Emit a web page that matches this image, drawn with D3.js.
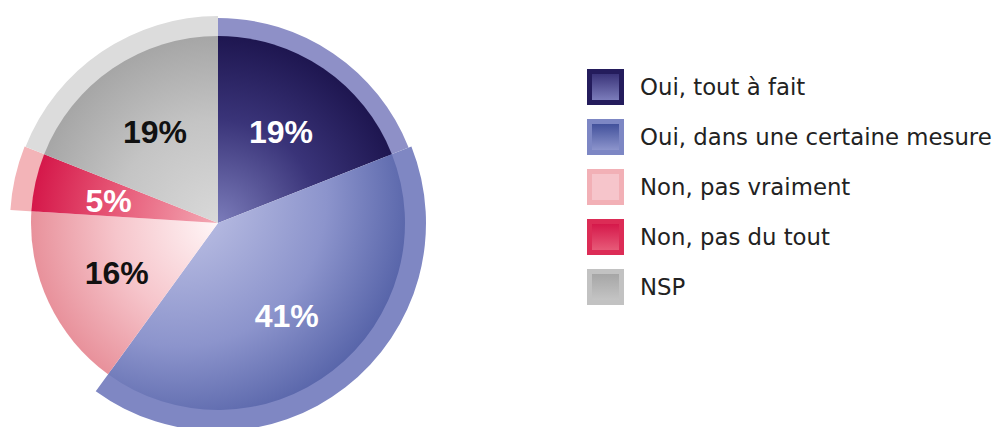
<!DOCTYPE html>
<html>
<head>
<meta charset="utf-8">
<script src="https://cdn.jsdelivr.net/npm/d3@7"></script>
<style>
  body { margin: 0; background: #fff; }
  svg { display: block; }
</style>
</head>
<body>
<svg id="chart" width="995" height="427"></svg>
<script>
// --- Data -----------------------------------------
const categories = [
  "Oui, tout à fait",
  "Oui, dans une certaine mesure",
  "Non, pas vraiment",
  "Non, pas du tout",
  "NSP"
];
const values = [19, 41, 16, 5, 19];
const valueLabels = ["19%", "41%", "16%", "5%", "19%"];

// --- Styles ---------------------------------------
// gradient stops for each slice: [near centre, middle, outer edge]
const sliceStops = [
  ["#7b7cba", "#3a3479", "#1e1650"],
  ["#c4c7e8", "#8c94cc", "#42519b"],
  ["#fff6f7", "#f6c5cb", "#e8919b"],
  ["#f3a9b4", "#e75a78", "#d5184a"],
  ["#d9d9d9", "#c4c4c4", "#a6a6a6"]
];
const rimColors = ["#8e90c7", "#7f87c3", null, "#f3b4b8", "#dcdcdc"];
const rimOuter = [205, 208, 0, 208, 207];
const labelColors = ["#fff", "#fff", "#111", "#fff", "#111"];

const cx = 218, cy = 223;
const innerR = 187;
const labelR = 112;

const svg = d3.select("#chart");
const defs = svg.append("defs");

const pie = d3.pie().sort(null).value(d => d);
const arcs = pie(values);

const g = svg.append("g").attr("transform", `translate(${cx},${cy})`);

// slice gradients (radial from the centre, the big one shifted up-left)
sliceStops.forEach((stops, i) => {
  const off = i === 1 ? [-40, -25, 270] : [0, 0, innerR];
  const grad = defs.append("radialGradient")
    .attr("id", "slice" + i)
    .attr("gradientUnits", "userSpaceOnUse")
    .attr("cx", off[0]).attr("cy", off[1]).attr("r", off[2])
    .attr("fx", off[0]).attr("fy", off[1]);
  grad.append("stop").attr("offset", "0%").attr("stop-color", stops[0]);
  grad.append("stop").attr("offset", "55%").attr("stop-color", stops[1]);
  grad.append("stop").attr("offset", "100%").attr("stop-color", stops[2]);
});

// outer rim, drawn behind the slices
g.selectAll("path.rim")
  .data(arcs.filter((d, i) => rimColors[i]))
  .join("path")
  .attr("class", "rim")
  .attr("fill", d => rimColors[d.index])
  .attr("d", d => d3.arc()
    .innerRadius(innerR - 6)
    .outerRadius(rimOuter[d.index])(d));

// slices
const sliceArc = d3.arc().innerRadius(0).outerRadius(innerR);
g.selectAll("path.slice")
  .data(arcs)
  .join("path")
  .attr("class", "slice")
  .attr("fill", (d, i) => `url(#slice${i})`)
  .attr("d", sliceArc);

// value labels
const labelArc = d3.arc().innerRadius(labelR).outerRadius(labelR);
g.selectAll("text.value")
  .data(arcs)
  .join("text")
  .attr("class", "value")
  .attr("transform", d => {
    const [x, y] = labelArc.centroid(d);
    return `translate(${x},${y + (d.index === 1 ? 5 : 2)})`;
  })
  .attr("text-anchor", "middle")
  .attr("dominant-baseline", "central")
  .style("font-family", "'Liberation Sans', Arial, sans-serif")
  .style("font-weight", "bold")
  .style("font-size", "32px")
  .attr("fill", (d, i) => labelColors[i])
  .text((d, i) => valueLabels[i]);

// --- Legend ---------------------------------------
const legendY = d3.scaleBand()
  .domain(categories)
  .range([62, 312])
  .paddingInner(0.28)
  .paddingOuter(0.14);

sliceStops.forEach((stops, i) => {
  const grad = defs.append("linearGradient")
    .attr("id", "key" + i)
    .attr("x1", 0).attr("y1", 0).attr("x2", 0).attr("y2", 1);
  grad.append("stop").attr("offset", "0%").attr("stop-color", i === 2 ? stops[1] : stops[i === 0 ? 1 : 2]);
  grad.append("stop").attr("offset", "100%").attr("stop-color", stops[i === 0 ? 0 : 1]);
});
const frameColors = ["#241c5c", "#7d87c4", "#f2b0b6", "#dc2c56", "#c2c2c2"];

const legend = svg.append("g");
const item = legend.selectAll("g")
  .data(categories)
  .join("g")
  .attr("transform", d => `translate(587,${legendY(d)})`);

item.append("rect")
  .attr("width", 37)
  .attr("height", legendY.bandwidth())
  .attr("fill", (d, i) => frameColors[i]);

item.append("rect")
  .attr("x", 5).attr("y", 5)
  .attr("width", 27)
  .attr("height", legendY.bandwidth() - 10)
  .attr("fill", (d, i) => `url(#key${i})`);

item.append("text")
  .attr("x", 53)
  .attr("y", legendY.bandwidth() / 2)
  .attr("dy", "0.33em")
  .style("font-family", "'DejaVu Sans', Verdana, sans-serif")
  .style("font-size", "22.8px")
  .attr("fill", "#222")
  .text(d => d);
</script>
</body>
</html>
